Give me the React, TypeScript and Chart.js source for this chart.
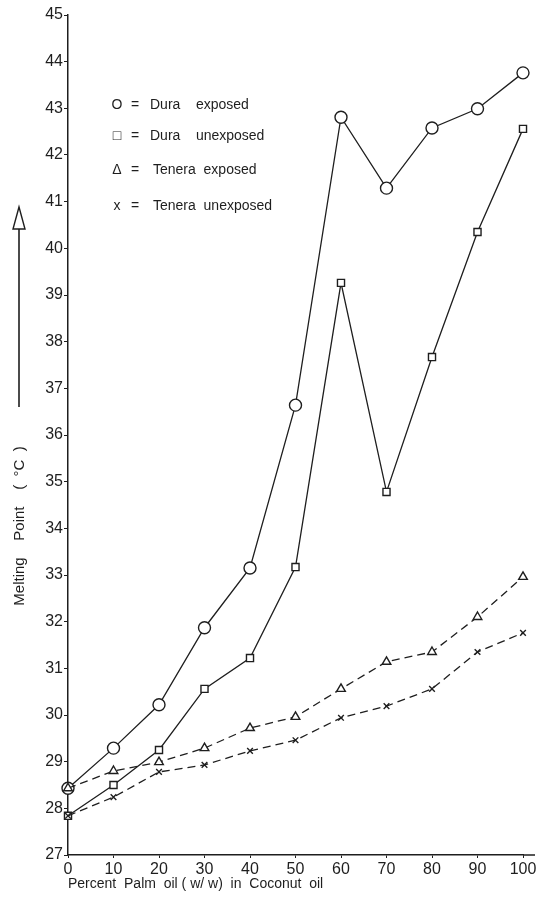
import React, { useEffect, useRef } from "react";
import { Chart, registerables } from "chart.js";

Chart.register(...registerables);

const percentPalmOil = [0, 10, 20, 30, 40, 50, 60, 70, 80, 90, 100];
const duraExposed = [28.43, 29.29, 30.22, 31.87, 33.15, 36.64, 42.81, 41.29, 42.58, 42.99, 43.76];
const duraUnexposed = [27.84, 28.5, 29.25, 30.56, 31.22, 33.17, 39.26, 34.78, 37.67, 40.35, 42.56];
const teneraExposed = [28.43, 28.8, 28.99, 29.29, 29.72, 29.96, 30.56, 31.14, 31.35, 32.1, 32.96];
const teneraUnexposed = [27.84, 28.24, 28.78, 28.93, 29.23, 29.46, 29.94, 30.19, 30.56, 31.35, 31.76];

const legendSymbols = ["O", "\u25A1", "\u0394", "x"];
const legendNames = ["Dura    exposed", "Dura    unexposed", "Tenera  exposed", "Tenera  unexposed"];

const yTitle = "Melting    Point    (  \u00B0C  )";
const xTitle = "Percent  Palm  oil ( w/ w)  in  Coconut  oil";

const INK = "#1e1e1e";
const FONT = "'Liberation Sans', 'DejaVu Sans', sans-serif";

const decorPlugin = {
  id: "decor",
  afterDraw(chart: any) {
    const ctx = chart.ctx;
    const area = chart.chartArea;
    ctx.save();
    ctx.fillStyle = INK;
    ctx.strokeStyle = INK;
    // extend x axis line slightly past 100
    ctx.lineWidth = 1.5;
    ctx.beginPath();
    ctx.moveTo(area.right, area.bottom);
    ctx.lineTo(area.right + 12, area.bottom);
    ctx.stroke();
    // legend
    ctx.font = `14px ${FONT}`;
    ctx.textBaseline = "middle";
    const rows = [105, 136, 170, 206];
    rows.forEach((y, i) => {
      ctx.textAlign = "center";
      ctx.fillText(legendSymbols[i], 117, y);
      ctx.fillText("=", 135, y);
      ctx.textAlign = "left";
      ctx.fillText(legendNames[i], i < 2 ? 150 : 153, y);
    });
    // y title, rotated
    ctx.save();
    ctx.translate(20, 526);
    ctx.rotate(-Math.PI / 2);
    ctx.textAlign = "center";
    ctx.font = `15px ${FONT}`;
    ctx.fillText(yTitle, 0, 0);
    ctx.restore();
    // arrow
    ctx.lineWidth = 1.6;
    ctx.beginPath();
    ctx.moveTo(19, 407);
    ctx.lineTo(19, 229);
    ctx.stroke();
    ctx.lineWidth = 1.4;
    ctx.beginPath();
    ctx.moveTo(19, 207);
    ctx.lineTo(13, 229);
    ctx.lineTo(25, 229);
    ctx.closePath();
    ctx.stroke();
    ctx.restore();
  },
};

function makeDataset(label: string, data: number[], style: string, radius: number, dashed: boolean) {
  return {
    label,
    data: percentPalmOil.map((x, i) => ({ x, y: data[i] })),
    borderColor: INK,
    backgroundColor: "#ffffff",
    borderWidth: 1.3,
    borderDash: dashed ? [8, 5] : [],
    pointStyle: style,
    pointRadius: radius,
    pointBorderWidth: 1.4,
    pointBorderColor: INK,
    pointBackgroundColor: "#ffffff",
    tension: 0,
    fill: false,
    clip: false,
  };
}

export default function App() {
  const canvasRef = useRef<HTMLCanvasElement | null>(null);

  useEffect(() => {
    const canvas = canvasRef.current;
    if (!canvas) return;
    const chart = new Chart(canvas, {
      type: "line",
      data: {
        datasets: [
          makeDataset("Tenera unexposed", teneraUnexposed, "crossRot", 4, true),
          makeDataset("Tenera exposed", teneraExposed, "triangle", 5, true),
          makeDataset("Dura unexposed", duraUnexposed, "rect", 5, false),
          makeDataset("Dura exposed", duraExposed, "circle", 6, false),
        ] as any,
      },
      options: {
        animation: false,
        responsive: false,
        maintainAspectRatio: false,
        layout: { padding: { top: 15, right: 17, bottom: 10, left: 0 } },
        plugins: {
          legend: { display: false },
          tooltip: { enabled: false },
        },
        scales: {
          x: {
            type: "linear",
            min: 0,
            max: 100,
            afterFit: (axis: any) => {
              axis.height = 38;
            },
            ticks: {
              stepSize: 10,
              color: INK,
              padding: 2,
              font: { family: FONT, size: 16 },
              maxRotation: 0,
            },
            grid: {
              display: true,
              drawOnChartArea: false,
              drawTicks: true,
              tickLength: 3,
              color: INK,
            },
            border: { display: true, color: INK, width: 1.5 },
            title: {
              display: true,
              text: xTitle,
              align: "start",
              color: INK,
              font: { family: FONT, size: 14 },
              padding: { top: 0, bottom: 0 },
            },
          },
          y: {
            type: "linear",
            min: 27,
            max: 45,
            afterFit: (axis: any) => {
              axis.width = 68;
            },
            ticks: {
              stepSize: 1,
              color: INK,
              padding: 1,
              font: { family: FONT, size: 16 },
            },
            grid: {
              display: true,
              drawOnChartArea: false,
              drawTicks: true,
              tickLength: 4,
              color: INK,
            },
            border: { display: true, color: INK, width: 1.5 },
          },
        },
      } as any,
      plugins: [decorPlugin],
    });
    return () => chart.destroy();
  }, []);

  return (
    <div style={{ position: "absolute", left: 0, top: 0, width: 540, height: 903, background: "#ffffff" }}>
      <canvas ref={canvasRef} width={540} height={903} style={{ display: "block", width: 540, height: 903 }} />
    </div>
  );
}
